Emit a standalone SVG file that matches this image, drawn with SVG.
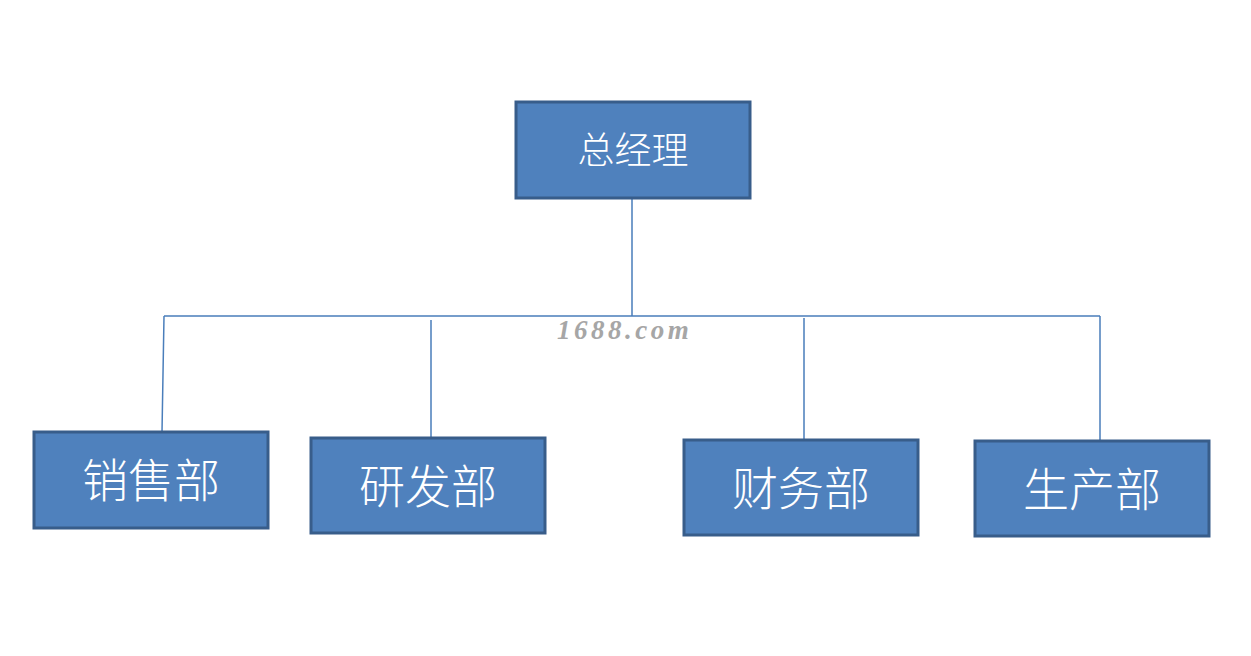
<svg xmlns="http://www.w3.org/2000/svg" width="1251" height="656" viewBox="0 0 1251 656">
<style>
.box{fill:#4f81bd;stroke:#385d8a;stroke-width:3}
.lbl{fill:#ffffff;font-family:"Noto Sans CJK SC","Noto Sans CJK JP",sans-serif;font-weight:300;text-anchor:middle;dominant-baseline:central}
.con{stroke:#4a7ebb;stroke-width:1.5;fill:none}
.wm{fill:#a6a6a6;font-family:"Liberation Serif",serif;font-style:italic;font-weight:bold;font-size:27px;letter-spacing:3.5px}
</style>
<rect width="1251" height="656" fill="#ffffff"/>
<g id="connectors">
<path class="con" d="M632 198V316M164 316H1100M164 316L162 432M431 320V438M804 318V440M1100 316V441"/>
</g>
<g id="n-zjl"><rect class="box" x="516" y="102" width="234" height="96"/><text class="lbl" x="633" y="148" font-size="37">总经理</text></g>
<g id="n-xsb"><rect class="box" x="34" y="432" width="234" height="96"/><text class="lbl" x="151" y="477" font-size="46">销售部</text></g>
<g id="n-yfb"><rect class="box" x="311" y="438" width="234" height="95"/><text class="lbl" x="428" y="483" font-size="46">研发部</text></g>
<g id="n-cwb"><rect class="box" x="684" y="440" width="234" height="95"/><text class="lbl" x="801" y="485" font-size="46">财务部</text></g>
<g id="n-scb"><rect class="box" x="975" y="441" width="234" height="95"/><text class="lbl" x="1092" y="486" font-size="46">生产部</text></g>
<text class="wm" x="557" y="339">1688.com</text>
</svg>
